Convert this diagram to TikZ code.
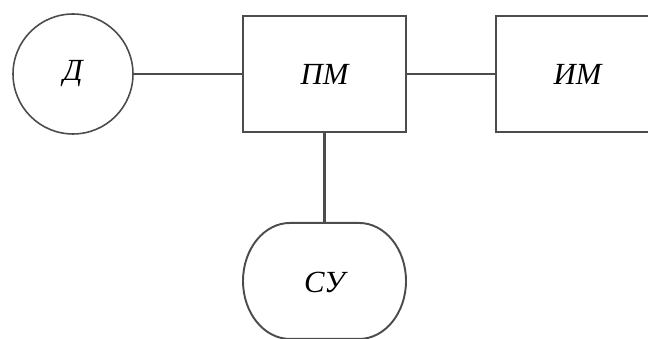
\documentclass[tikz,border=0pt]{standalone}
\usepackage{fontspec}
\setmainfont{Liberation Serif}
\usetikzlibrary{positioning}

\tikzset{
	blk/.style={draw=black!70, line width=1.2pt, minimum width=3.26cm, minimum height=2.32cm, inner sep=0pt, font=\fontsize{17.5}{20}\selectfont\itshape},
	lnk/.style={draw=black!70, line width=1.4pt}
}

\begin{document}
\begin{tikzpicture}[x=0.02cm,y=0.02cm]
				\useasboundingbox (0,0) rectangle (648,338);
				\node[blk, circle, minimum size=2.4cm, line width=0.9pt] (d) at (73,264) {Д};
				\node[blk] (pm) at (324.5,264) {ПМ};
				\node[blk] (im) at (577.5,264) {ИМ};
				\node[blk, draw=none] (su) at (324.5,56) {СУ};
				% outline of the control unit, flat top and bottom
				\draw[lnk, line width=1.1pt] (su.north) -- ++(34.5,0)
					arc[start angle=90, end angle=-90, x radius=47, y radius=58] -- ++(-69,0)
					arc[start angle=270, end angle=90, x radius=47, y radius=58] -- cycle;
				\draw[lnk] (d) -- (pm);
				\draw[lnk] (pm) -- (im);
				\draw[lnk] (pm) -- (su);
				\end{tikzpicture}
\end{document}
